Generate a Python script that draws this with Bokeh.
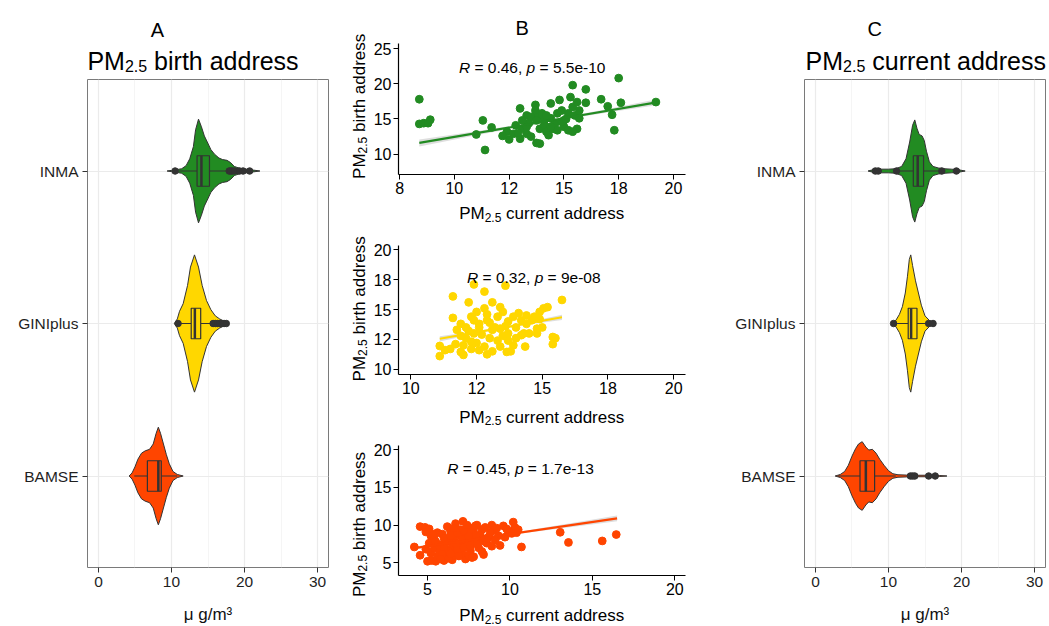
import numpy as np
from bokeh.plotting import figure
from bokeh.layouts import row, column
from bokeh.models import Range1d, FixedTicker, Label
from bokeh.embed import file_html
from bokeh.resources import INLINE

FONT = "Liberation Sans"

# ---------------- data ----------------
cohorts = ["INMA", "GINIplus", "BAMSE"]
cohort_colors = ["#228B22", "#FFD700", "#FF4500"]
cohort_pos = [3, 2, 1]

# Panel A: PM2.5 at birth address, violin profile (value, half-width in category units)
birth_inma_val = [9.4, 10.0, 10.6, 11.4, 12.0, 12.5, 13.0, 13.3, 13.7, 14.1, 14.5, 14.9, 15.4, 15.9, 16.5, 17.0, 17.6, 18.1, 18.6, 19.3, 20.2, 21.2, 22.1]
birth_inma_hw = [0.0, 0.004, 0.008, 0.015, 0.035, 0.08, 0.16, 0.27, 0.34, 0.29, 0.23, 0.19, 0.14, 0.11, 0.085, 0.075, 0.07, 0.055, 0.03, 0.018, 0.012, 0.006, 0.0]
birth_gini_val = [10.4, 10.8, 11.1, 11.6, 12.2, 12.6, 13.15, 13.7, 14.2, 14.8, 15.4, 16.0, 16.6, 17.2, 17.8]
birth_gini_hw = [0.0, 0.03, 0.08, 0.13, 0.25, 0.37, 0.45, 0.37, 0.25, 0.15, 0.09, 0.05, 0.03, 0.015, 0.0]
birth_bamse_val = [4.2, 4.6, 5.0, 5.4, 5.9, 6.4, 7.0, 7.5, 7.9, 8.2, 8.5, 8.9, 9.3, 9.7, 10.2, 10.8, 11.6]
birth_bamse_hw = [0.0, 0.02, 0.06, 0.11, 0.15, 0.165, 0.175, 0.21, 0.28, 0.32, 0.28, 0.21, 0.14, 0.08, 0.03, 0.01, 0.0]
# boxplot stats: whisker low, Q1, median, Q3, whisker high
birth_inma_box = [11.0, 13.5, 14.1, 15.2, 17.7]
birth_gini_box = [11.2, 12.7, 13.2, 14.0, 15.5]
birth_bamse_box = [4.9, 6.7, 8.2, 8.6, 10.8]
birth_inma_out = [10.5, 17.9, 18.1, 18.3, 18.6, 19.3, 19.8, 20.7]
birth_gini_out = [10.9, 15.7, 16.0, 16.3, 16.6, 16.9, 17.2, 17.5]
birth_bamse_out = []

# Panel C: PM2.5 at current address
cur_inma_val = [7.2, 8.0, 9.0, 10.0, 11.0, 11.8, 12.4, 12.9, 13.3, 13.6, 13.9, 14.2, 14.6, 14.9, 15.2, 15.6, 16.1, 16.8, 17.6, 18.6, 19.6, 20.5]
cur_inma_hw = [0.0, 0.01, 0.012, 0.012, 0.015, 0.03, 0.08, 0.19, 0.30, 0.335, 0.28, 0.24, 0.23, 0.2, 0.13, 0.06, 0.03, 0.02, 0.015, 0.012, 0.008, 0.0]
cur_gini_val = [10.5, 11.0, 11.5, 11.9, 12.3, 12.6, 12.85, 13.05, 13.3, 13.7, 14.1, 14.5, 15.0, 15.6, 16.4]
cur_gini_hw = [0.0, 0.02, 0.06, 0.11, 0.2, 0.31, 0.42, 0.45, 0.38, 0.28, 0.2, 0.12, 0.05, 0.02, 0.0]
cur_bamse_val = [2.7, 3.4, 4.0, 4.5, 5.0, 5.5, 5.9, 6.4, 6.9, 7.3, 7.8, 8.3, 8.8, 9.4, 10.0, 10.6, 11.3, 12.5, 14.0, 15.5, 17.0, 18.0]
cur_bamse_hw = [0.0, 0.01, 0.03, 0.07, 0.13, 0.18, 0.21, 0.225, 0.19, 0.17, 0.175, 0.15, 0.11, 0.07, 0.035, 0.015, 0.008, 0.006, 0.005, 0.005, 0.003, 0.0]
cur_inma_box = [11.4, 13.4, 14.0, 14.8, 16.8]
cur_gini_box = [11.0, 12.7, 13.1, 13.9, 15.2]
cur_bamse_box = [3.1, 6.1, 6.9, 8.1, 11.0]
cur_inma_out = [8.2, 8.6, 11.1, 17.3, 19.3]
cur_gini_out = [10.7, 15.5, 16.1]
cur_bamse_out = [13.0, 13.3, 13.6, 15.5, 16.4]

violin_xticks = [0, 10, 20, 30]
violin_xminor = [5, 15, 25]
violin_xlabel = "μ g/m³"

# Panel B: current (x) vs birth (y) address PM2.5
inma_current = [8.4, 8.4, 8.6, 8.8, 8.9, 11.0, 11.3, 11.4, 11.7, 12.4,
                12.5, 12.7, 12.8, 13.0, 13.0, 13.1, 13.3, 13.4, 13.5, 13.7,
                13.7, 13.8, 13.9, 13.9, 14.0, 14.1, 14.1, 14.2, 14.3, 14.4,
                14.4, 14.5, 14.6, 14.7, 14.8, 14.9, 15.0, 15.0, 15.2, 15.2,
                15.3, 15.4, 15.4, 15.5, 15.6, 15.7, 15.7, 16.0, 16.0, 16.7,
                17.0, 17.2, 17.3, 17.5, 17.6, 19.2, 13.3, 13.5, 13.75, 14.2,
                14.7, 14.4, 13.3, 13.1, 15.6, 15.4, 12.2, 12.9, 14.9, 15.1,
                13.75]
inma_birth = [17.8, 14.3, 14.4, 14.4, 14.9, 12.8, 14.8, 10.6, 13.8, 13.2,
              12.1, 12.9, 14.1, 16.5, 12.2, 13.6, 12.9, 14.4, 12.5, 17.0,
              16.2, 15.3, 13.6, 11.5, 15.8, 14.8, 14.1, 13.2, 12.7, 17.2,
              15.1, 13.6, 14.4, 15.8, 17.7, 16.2, 14.8, 13.9, 13.4, 15.8,
              18.1, 19.8, 16.7, 15.5, 17.4, 16.2, 15.1, 19.2, 17.3, 17.8,
              16.8, 15.6, 13.4, 20.8, 17.3, 17.4, 15.5, 15.3, 14.8, 15.5,
              13.4, 13.9, 13.9, 14.8, 13.6, 13.2, 12.6, 13.0, 14.6, 15.0,
              11.6]
gini_current = [11.6, 11.6, 11.1, 11.1, 12.2, 12.4, 12.8, 13.6, 15.75, 11.9,
                12.3, 12.5, 12.8, 13.1, 13.4, 13.5, 12.9, 12.6, 12.4, 12.1,
                11.9, 11.7, 11.5, 11.3, 12.3, 12.6, 12.9, 13.1, 13.3, 13.1,
                13.4, 13.7, 13.7, 13.8, 13.9, 14.0, 14.2, 14.3, 14.4, 14.35,
                14.7, 14.8, 14.9, 15.05, 15.2, 14.8, 15.0, 15.4, 15.4, 15.5,
                13.7, 13.65, 12.6, 13.3, 13.0, 12.3, 11.9, 12.8, 13.2, 13.5,
                14.0, 14.5, 14.2, 12.1, 11.75, 14.6, 14.4, 12.0, 12.5, 12.7,
                12.2, 13.0, 12.4, 13.6, 14.1, 14.9, 13.9, 12.0, 13.4, 12.9]
gini_birth = [16.1, 14.3, 11.95, 11.1, 15.6, 17.1, 16.5, 17.0, 15.8, 13.8,
              14.4, 14.8, 15.1, 15.6, 15.2, 14.8, 14.1, 13.5, 13.0, 12.6,
              12.8, 12.1, 11.7, 11.6, 11.7, 11.6, 11.25, 11.5, 12.4, 13.3,
              13.4, 14.0, 13.0, 11.5, 14.4, 13.5, 14.1, 13.0, 13.8, 11.9,
              14.4, 13.4, 14.8, 15.1, 15.2, 13.0, 13.5, 12.7, 12.1, 12.6,
              12.4, 11.45, 13.8, 14.4, 12.6, 12.3, 11.45, 11.9, 13.5, 12.8,
              12.6, 13.0, 12.85, 13.5, 13.3, 14.1, 14.5, 12.0, 12.2, 12.9,
              13.2, 13.9, 14.1, 13.6, 14.7, 14.2, 12.0, 11.2, 11.9, 14.6]
bamse_current = [4.2, 4.55, 4.85, 4.55, 5.0, 5.25, 10.7, 13.05, 13.55, 15.6,
                 16.45, 8.4, 10.3, 10.2, 9.4, 7.15, 6.2, 5.5, 6.0, 6.5,
                 7.3, 7.8, 5.2, 5.6, 6.7, 8.0, 8.9, 9.6, 9.0, 9.9,
                 10.4, 9.3, 8.7, 8.3, 7.6, 7.0, 6.4, 5.9, 5.4, 5.1,
                 4.9, 5.2, 5.6, 6.1, 6.6, 7.1, 7.6, 8.1, 8.6, 9.1,
                 9.7, 10.1, 5.4, 5.8, 6.2, 6.6, 7.0, 7.4, 7.8, 8.2,
                 5.7, 6.1, 6.5, 6.9, 7.3, 7.7, 8.0, 5.9, 6.3, 6.8,
                 7.2, 7.6, 8.0, 8.4, 6.0, 6.4, 6.8, 7.2, 5.5, 5.3,
                 6.9, 7.5, 6.3, 5.8, 6.7, 7.9, 8.8, 6.6, 7.4, 7.9,
                 8.5, 5.1, 4.9, 9.2, 8.9, 8.3, 7.7, 6.4, 6.0, 7.1,
                 7.5, 8.6, 9.8, 10.5]
bamse_birth = [7.1, 9.8, 9.7, 6.0, 5.2, 5.3, 7.1, 9.05, 7.7, 7.9,
               8.75, 6.1, 9.7, 10.4, 7.3, 10.5, 9.8, 5.2, 5.3, 5.4,
               5.5, 5.8, 8.6, 9.0, 10.2, 10.0, 10.0, 9.9, 9.3, 9.2,
               9.0, 8.6, 8.4, 9.4, 9.6, 9.4, 9.2, 8.8, 8.2, 7.6,
               6.8, 6.3, 5.8, 5.9, 6.0, 6.2, 6.6, 7.0, 7.6, 8.0,
               8.4, 8.9, 7.0, 7.4, 7.8, 8.2, 8.6, 8.9, 9.1, 8.7,
               6.4, 6.8, 7.1, 7.5, 7.9, 8.2, 8.0, 6.1, 6.5, 6.7,
               7.0, 7.3, 7.5, 7.9, 8.3, 8.6, 9.0, 9.3, 7.8, 8.8,
               5.9, 6.0, 5.6, 5.5, 7.6, 8.6, 9.0, 9.6, 10.0, 9.9,
               9.7, 9.5, 9.1, 9.6, 7.2, 6.5, 5.7, 6.2, 7.1, 8.1,
               8.5, 8.2, 9.5, 9.4]
# fitted regression lines (end points) and confidence band half-widths
inma_fit_x = [8.4, 19.3]
inma_fit_y = [11.6, 17.4]
inma_band_x = [8.4, 11.0, 14.0, 17.0, 19.3]
inma_band_hw = [0.5, 0.28, 0.14, 0.25, 0.42]
gini_fit_x = [11.1, 15.75]
gini_fit_y = [12.55, 14.35]
gini_band_x = [11.1, 12.3, 13.4, 14.6, 15.75]
gini_band_hw = [0.22, 0.12, 0.07, 0.12, 0.22]
bamse_fit_x = [4.2, 16.5]
bamse_fit_y = [6.95, 10.9]
bamse_band_x = [4.2, 6.0, 7.5, 11.0, 16.5]
bamse_band_hw = [0.2, 0.09, 0.07, 0.16, 0.38]
inma_stat = ("0.46", "5.5e-10")
gini_stat = ("0.32", "9e-08")
bamse_stat = ("0.45", "1.7e-13")

b1_xticks = [7.5, 10, 12.5, 15, 17.5, 20]
b1_xlabels = ["8", "10", "12", "15", "18", "20"]
b1_yticks = [10, 15, 20, 25]
b1_ylabels = ["10", "15", "20", "25"]
b2_xticks = [10, 12.5, 15, 17.5, 20]
b2_xlabels = ["10", "12", "15", "18", "20"]
b2_yticks = [10, 12.5, 15, 17.5, 20]
b2_ylabels = ["10", "12", "15", "18", "20"]
b3_xticks = [5, 10, 15, 20]
b3_xlabels = ["5", "10", "15", "20"]
b3_yticks = [5, 10, 15, 20]
b3_ylabels = ["5", "10", "15", "20"]

# ---------------- helpers ----------------
ARIAL_W = {' ': 278, 'P': 667, 'M': 833, '.': 278, 'a': 556, 'b': 556, 'c': 500, 'd': 556,
           'e': 556, 'h': 556, 'i': 222, 'n': 556, 'r': 333, 's': 500, 't': 278, 'u': 556,
           'R': 722, '=': 584, ',': 278, 'p': 556, '-': 333}


def text_width(s, size):
    return sum(ARIAL_W.get(ch, 556) for ch in s) * size / 1000.0


def rich_text(fig, parts, cx, cy, angle=0.0, color="black"):
    """parts: (text, font px, baseline drop px, italic); (cx, cy) centre in frame screen px."""
    total = sum(text_width(t, s) for t, s, _, _ in parts)
    pos = -total / 2.0
    for t, s, drop, italic in parts:
        lead = len(t) - len(t.lstrip(" "))
        pos += text_width(" " * lead, s)
        body = t.strip(" ")
        if angle == 0:
            x, y = cx + pos, cy - drop
        else:
            x, y = cx + drop, cy + pos
        fig.add_layout(Label(x=x, y=y, x_units="screen", y_units="screen", text=body,
                             text_font=FONT, text_font_size=f"{s}px",
                             text_font_style="italic" if italic else "normal",
                             text_color=color, text_align="left", text_baseline="alphabetic",
                             angle=angle))
        pos += text_width(t.lstrip(" "), s)


def strip(w, h):
    """A blank drawing area (no axes, no borders) used only to hold text."""
    s = figure(width=w, height=h, x_range=Range1d(0, 1), y_range=Range1d(0, 1),
               output_backend="svg", toolbar_location=None,
               x_axis_location=None, y_axis_location=None,
               min_border_left=0, min_border_right=0, min_border_top=0, min_border_bottom=0,
               background_fill_color="white", border_fill_color="white")
    s.outline_line_color = None
    s.grid.visible = False
    try:
        s.frame_align = False
    except Exception:
        pass
    return s


def letter(fig, txt, x, y):
    fig.add_layout(Label(x=x, y=y, x_units="screen", y_units="screen", text=txt,
                         text_font=FONT, text_font_size="20px", text_align="center",
                         text_baseline="alphabetic", text_color="black"))


def violin_panel(vals, hws, boxes, outs, left_border, right_border):
    p = figure(frame_width=241, frame_height=488, x_range=Range1d(-1.5, 31.5),
               y_range=Range1d(0.4, 3.6), output_backend="svg", toolbar_location=None,
               min_border_left=left_border, min_border_right=right_border,
               min_border_top=1, min_border_bottom=59,
               background_fill_color="white", border_fill_color="white")
    p.outline_line_color = "#7a7a7a"
    p.outline_line_width = 1
    p.xaxis.ticker = FixedTicker(ticks=violin_xticks, minor_ticks=violin_xminor)
    p.yaxis.ticker = FixedTicker(ticks=cohort_pos)
    p.yaxis.major_label_overrides = {pos: name for pos, name in zip(cohort_pos, cohorts)}
    for ax in (p.xaxis[0], p.yaxis[0]):
        ax.axis_line_color = None
        ax.major_tick_line_color = "#333333"
        ax.major_tick_in = 0
        ax.major_tick_out = 5
        ax.minor_tick_line_color = None
        ax.major_label_text_font = FONT
        ax.major_label_text_font_size = "15.5px"
        ax.major_label_text_color = "#1f1f1f"
        ax.major_label_standoff = 4
    p.xaxis.axis_label = violin_xlabel
    p.xaxis.axis_label_text_font = FONT
    p.xaxis.axis_label_text_font_size = "17px"
    p.xaxis.axis_label_text_font_style = "normal"
    p.xaxis.axis_label_text_color = "#111111"
    p.xaxis.axis_label_standoff = 15
    p.xgrid.grid_line_color = "#EBEBEB"
    p.xgrid.grid_line_width = 1.2
    p.xgrid.minor_grid_line_color = "#F3F3F3"
    p.xgrid.minor_grid_line_width = 0.8
    p.ygrid.grid_line_color = "#EBEBEB"
    p.ygrid.grid_line_width = 1.2

    for pos, col, v, hw, bx, out in zip(cohort_pos, cohort_colors, vals, hws, boxes, outs):
        v = np.asarray(v, float)
        hw = np.asarray(hw, float)
        xs = np.concatenate([v, v[::-1]])
        ys = np.concatenate([pos + hw, (pos - hw)[::-1]])
        p.patch(xs, ys, fill_color=col, line_color="#333333", line_width=1)
        wlo, q1, med, q3, whi = bx
        p.segment(x0=[wlo, q3], y0=[pos, pos], x1=[q1, whi], y1=[pos, pos],
                  line_color="#333333", line_width=1.2)
        p.quad(left=[q1], right=[q3], bottom=[pos - 0.1], top=[pos + 0.1],
               fill_color=col, line_color="#333333", line_width=1.2)
        p.segment(x0=[med], y0=[pos - 0.1], x1=[med], y1=[pos + 0.1],
                  line_color="#333333", line_width=2.5)
        if len(out):
            p.scatter(out, [pos] * len(out), size=6.5, fill_color="#333333",
                      line_color="#333333")
    return p


def scatter_panel(xv, yv, col, fit_x, fit_y, band_x, band_hw, stat, xr, yr,
                  xt, xl, yt, yl, top, frame_h, stat_pos):
    p = figure(frame_width=287, frame_height=frame_h, x_range=Range1d(*xr), y_range=Range1d(*yr),
               output_backend="svg", toolbar_location=None,
               min_border_left=28, min_border_right=15, min_border_top=top,
               min_border_bottom=30, background_fill_color="white",
               border_fill_color="white")
    p.outline_line_color = None
    p.grid.visible = False
    p.xaxis.ticker = FixedTicker(ticks=xt)
    p.xaxis.major_label_overrides = {t: s for t, s in zip(xt, xl)}
    p.yaxis.ticker = FixedTicker(ticks=yt)
    p.yaxis.major_label_overrides = {t: s for t, s in zip(yt, yl)}
    for ax in (p.xaxis[0], p.yaxis[0]):
        ax.axis_line_color = "black"
        ax.axis_line_width = 1.2
        ax.major_tick_line_color = "black"
        ax.major_tick_in = 0
        ax.major_tick_out = 5
        ax.minor_tick_line_color = None
        ax.major_label_text_font = FONT
        ax.major_label_text_font_size = "16px"
        ax.major_label_text_color = "black"
        ax.major_label_standoff = 2
    bx = np.asarray(band_x, float)
    by = np.interp(bx, fit_x, fit_y)
    bh = np.asarray(band_hw, float)
    p.patch(np.concatenate([bx, bx[::-1]]), np.concatenate([by + bh, (by - bh)[::-1]]),
            fill_color="#A0A0A0", fill_alpha=0.35, line_color=None)
    p.scatter(xv, yv, size=7.8, fill_color=col, line_color=col)
    p.line(fit_x, fit_y, line_color=col, line_width=2.2)
    rich_text(p, [("R", 15.5, 0, True), (f" = {stat[0]}, ", 15.5, 0, False),
                  ("p", 15.5, 0, True), (f" = {stat[1]}", 15.5, 0, False)],
              stat_pos[0], stat_pos[1])
    return p


def xlab_strip(h, y):
    s = strip(330, h)
    rich_text(s, [("PM", 17, 0, False), ("2.5", 12, 3.5, False), (" current address", 17, 0, False)],
              171.2, y)
    return s


# ---------------- panel A ----------------
headA = strip(345, 78)
letter(headA, "A", 157, 48.7)
rich_text(headA, [("PM", 25, 0, False), ("2.5", 16, 5, False), (" birth address", 25, 0, False)],
          192.5, 17.3)
pA = violin_panel([birth_inma_val, birth_gini_val, birth_bamse_val],
                  [birth_inma_hw, birth_gini_hw, birth_bamse_hw],
                  [birth_inma_box, birth_gini_box, birth_bamse_box],
                  [birth_inma_out, birth_gini_out, birth_bamse_out], 87, 17)

# ---------------- panel C ----------------
headC = strip(349, 78)
letter(headC, "C", 174.3, 49.7)
rich_text(headC, [("PM", 25, 0, False), ("2.5", 16, 5, False), (" current address", 25, 0, False)],
          225.3, 17.3)
pC = violin_panel([cur_inma_val, cur_gini_val, cur_bamse_val],
                  [cur_inma_hw, cur_gini_hw, cur_bamse_hw],
                  [cur_inma_box, cur_gini_box, cur_bamse_box],
                  [cur_inma_out, cur_gini_out, cur_bamse_out], 104, 4)

# ---------------- panel B ----------------
ylabB = strip(25, 626)
for cy in (520.2, 317.7, 102.0):
    rich_text(ylabB, [("PM", 17, 0, False), ("2.5", 12, 3.5, False), (" birth address", 17, 0, False)],
              13.7, cy, angle=np.pi / 2)
headB = strip(330, 40)
letter(headB, "B", 151.7, 12.7)
pB1 = scatter_panel(inma_current, inma_birth, cohort_colors[0], inma_fit_x, inma_fit_y,
                    inma_band_x, inma_band_hw, inma_stat, (7.45, 20.55), (7.12, 25.71),
                    b1_xticks, b1_xlabels, b1_yticks, b1_ylabels, 3, 131, (133.7, 107.3))
pB2 = scatter_panel(gini_current, gini_birth, cohort_colors[1], gini_fit_x, gini_fit_y,
                    gini_band_x, gini_band_hw, gini_stat, (9.53, 20.45), (9.56, 20.36),
                    b2_xticks, b2_xlabels, b2_yticks, b2_ylabels, 20, 129, (135.3, 96.7))
pB3 = scatter_panel(bamse_current, bamse_birth, cohort_colors[2], bamse_fit_x, bamse_fit_y,
                    bamse_band_x, bamse_band_hw, bamse_stat, (3.24, 20.65), (3.31, 20.57),
                    b3_xticks, b3_xlabels, b3_yticks, b3_ylabels, 15, 130, (122.0, 106.7))
colB = column(headB, pB1, xlab_strip(21, 11.7), pB2, xlab_strip(26, 13.3), pB3,
              xlab_strip(21, 10.8), spacing=0)

layout = row(column(headA, pA, spacing=0), ylabB, colB, column(headC, pC, spacing=0), spacing=0)

with open("out.html", "w") as f:
    f.write(file_html(layout, INLINE))
